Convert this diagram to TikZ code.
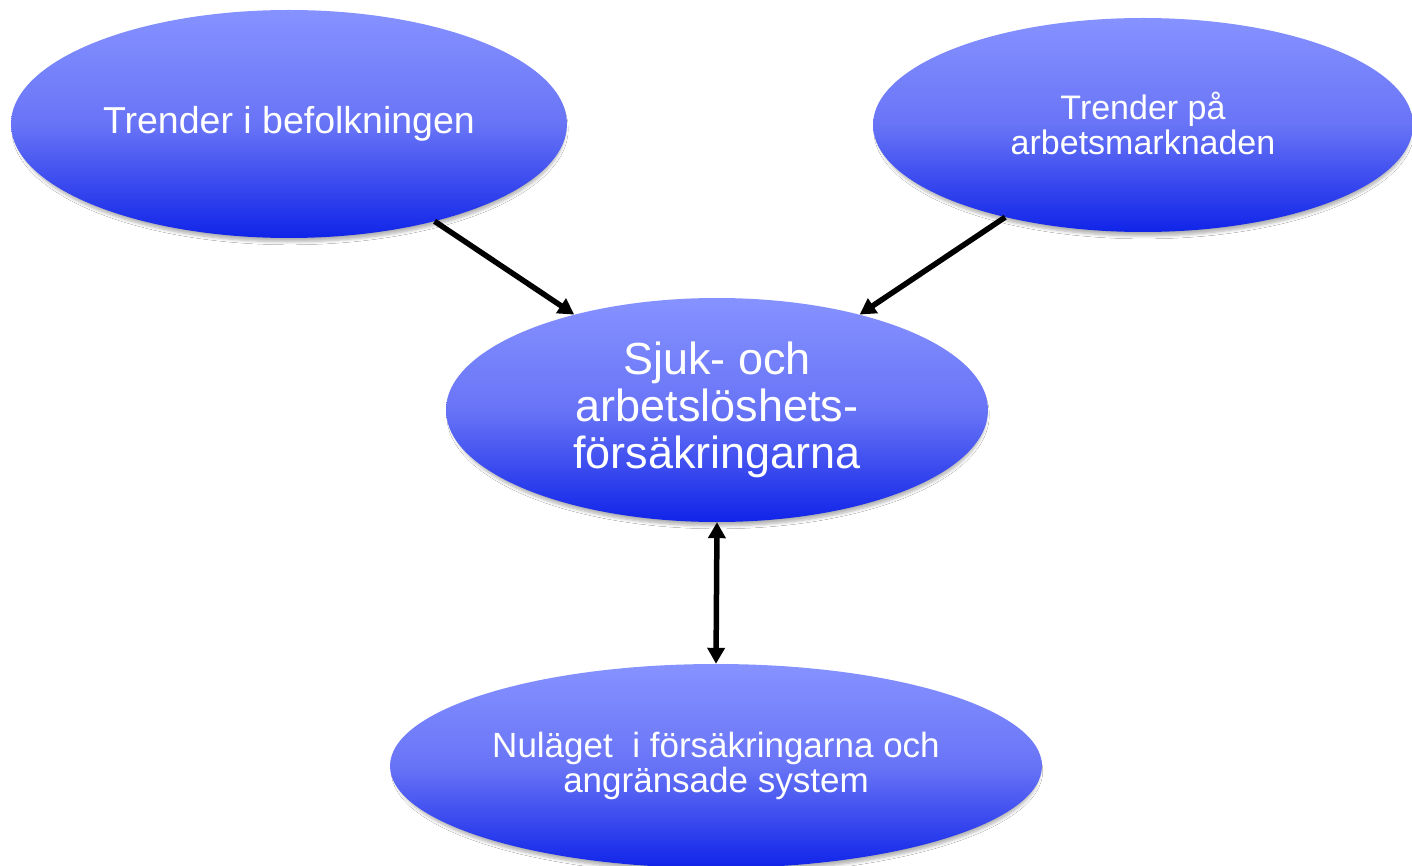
\documentclass[tikz,border=0pt]{standalone}
\usepackage{fontspec}
\setmainfont{Liberation Sans}
\usetikzlibrary{shapes.geometric,arrows.meta,shadows.blur}
\definecolor{ctop}{RGB}{134,146,255}
\definecolor{cmid}{RGB}{104,116,246}
\definecolor{cbot}{RGB}{16,36,232}
\tikzset{
  bubble/.style={ellipse, inner sep=0pt, draw=none, text=white, align=center,
    top color=ctop, bottom color=cbot, middle color=cmid,
    blur shadow={shadow xshift=1pt, shadow yshift=-5pt, shadow opacity=30, shadow blur steps=6, shadow blur radius=3pt, shadow scale=0.99}},
  link/.style={line width=5.5pt, black, -{Triangle[length=16pt,width=17pt]}},
  duolink/.style={line width=5.5pt, black, {Triangle[length=16pt,width=17pt]}-{Triangle[length=16pt,width=17pt]}}
}
\begin{document}
\begin{tikzpicture}[x=1pt,y=-1pt]
\useasboundingbox (0,0) rectangle (1412,866);
\fill[white] (0,0) rectangle (1412,866);
\node[bubble, minimum width=556pt, minimum height=228pt,
  font=\fontsize{37.5}{44}\selectfont] (e1) at (289,124)
  {\raisebox{-2pt}{Trender i befolkningen}};
\node[bubble, minimum width=540pt, minimum height=214pt,
  font=\fontsize{34}{35}\selectfont] (e2) at (1143,125)
  {\raisebox{3pt}{Trender på}\\\raisebox{3pt}{arbetsmarknaden}};
\node[bubble, minimum width=542pt, minimum height=224pt,
  font=\fontsize{45}{47}\selectfont] (e3) at (717,410)
  {Sjuk- och\\arbetslöshets-\\försäkringarna};
\node[bubble, minimum width=652pt, minimum height=204pt,
  font=\fontsize{35}{35}\selectfont] (e4) at (716,766)
  {Nuläget\hspace{0.28em} i försäkringarna och\\angränsade system};
\draw[link] (e1) -- (e3);
\draw[link] (e2) -- (e3);
\draw[duolink] (e3.south) -- (e4.north);
\end{tikzpicture}
\end{document}
